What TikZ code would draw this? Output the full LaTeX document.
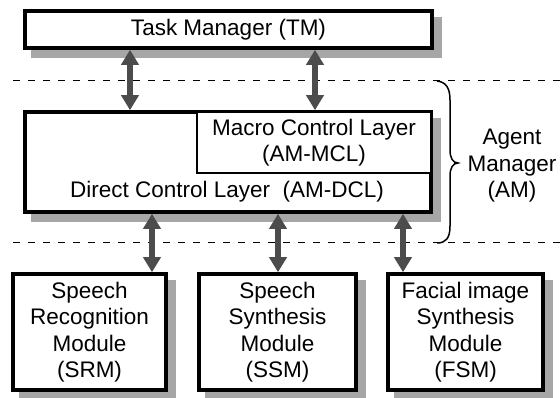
\documentclass[tikz,border=0pt]{standalone}
\usepackage{fontspec}
\setmainfont{Liberation Sans}
\usetikzlibrary{arrows.meta,backgrounds}
\tikzset{
  box/.style={draw=black, line width=3.6pt, fill=white, inner sep=0pt, align=center},
  inner/.style={draw=black, line width=2.4pt, fill=white, inner sep=0pt, align=center},
  txt/.style={align=center, inner sep=0pt},
  shade/.style={fill=black!35},
  link/.style={line width=6pt, draw=black!70,
    {Triangle[length=15pt,width=17pt]}-{Triangle[length=15pt,width=17pt]}},
  sep/.style={dash pattern=on 7pt off 8pt, line width=1pt},
}
% grey drop shadow below and right of a named box
\newcommand\boxshadow[1]{%
  \fill[shade] ([shift={(8,8)}]#1.south west) rectangle ([shift={(8,8)}]#1.north east);}
\begin{document}
\begin{tikzpicture}[x=1pt, y=-1pt, font=\fontsize{22.5}{26.5}\selectfont]
\useasboundingbox (0,0) rectangle (560,398);

% separators between the layers
\coordinate (d1l) at (13,81);   \coordinate (d1r) at (560,81);
\coordinate (d2l) at (13,243);  \coordinate (d2r) at (560,243);
\draw[sep] (d1l) -- (d1r);
\draw[sep] (d2l) -- (d2r);

% task manager
\node[box, minimum width=407pt, minimum height=37pt] (tm) at (228.5,29.5) {Task Manager (TM)};

% agent manager: direct control layer with macro control layer inside
\node[box, minimum width=406pt, minimum height=100pt] (am) at (228,162) {};
\node[inner, minimum width=234pt, minimum height=61pt] (mcl) at (314,142.5)
  {Macro Control Layer\\(AM-MCL)};
\node[txt] (dcl) at (227,192) {Direct Control Layer\ \ (AM-DCL)};

% modules
\node[box, minimum width=153pt, minimum height=116pt] (srm) at (89.5,332)
  {Speech\\Recognition\\Module\\(SRM)};
\node[box, minimum width=157pt, minimum height=116pt] (ssm) at (277.5,332)
  {Speech\\Synthesis\\Module\\(SSM)};
\node[box, minimum width=155pt, minimum height=116pt] (fsm) at (465.5,332)
  {Facial image\\Synthesis\\Module\\(FSM)};

\begin{scope}[on background layer]
  \boxshadow{tm}
  \boxshadow{am}
  \boxshadow{srm}
  \boxshadow{ssm}
  \boxshadow{fsm}
\end{scope}

% links between the layers
\draw[link] (tm.south -| 130,0) -- (am.north -| 130,0);
\draw[link] (tm.south -| 315,0) -- (am.north -| 315,0);
\draw[link] (am.south -| 152,0) -- (srm.north -| 152,0);
\draw[link] (am.south -| 278,0) -- (ssm.north -| 278,0);
\draw[link] (am.south -| 403,0) -- (fsm.north -| 403,0);

% brace grouping the agent manager
\node[txt] (agent) at (512,166) {Agent\\Manager\\(AM)};
\coordinate (bt) at (437,81);
\coordinate (tip) at (458,163);
\coordinate (bb) at (437,243);
\draw[line width=1.5pt] (bt) .. controls (446,82) and (450,88) .. (450,100)
  -- (450,150) .. controls (450,158) and (453,163) .. (tip)
  .. controls (453,163) and (450,168) .. (450,176)
  -- (450,226) .. controls (450,238) and (446,243) .. (bb);
\end{tikzpicture}
\end{document}
